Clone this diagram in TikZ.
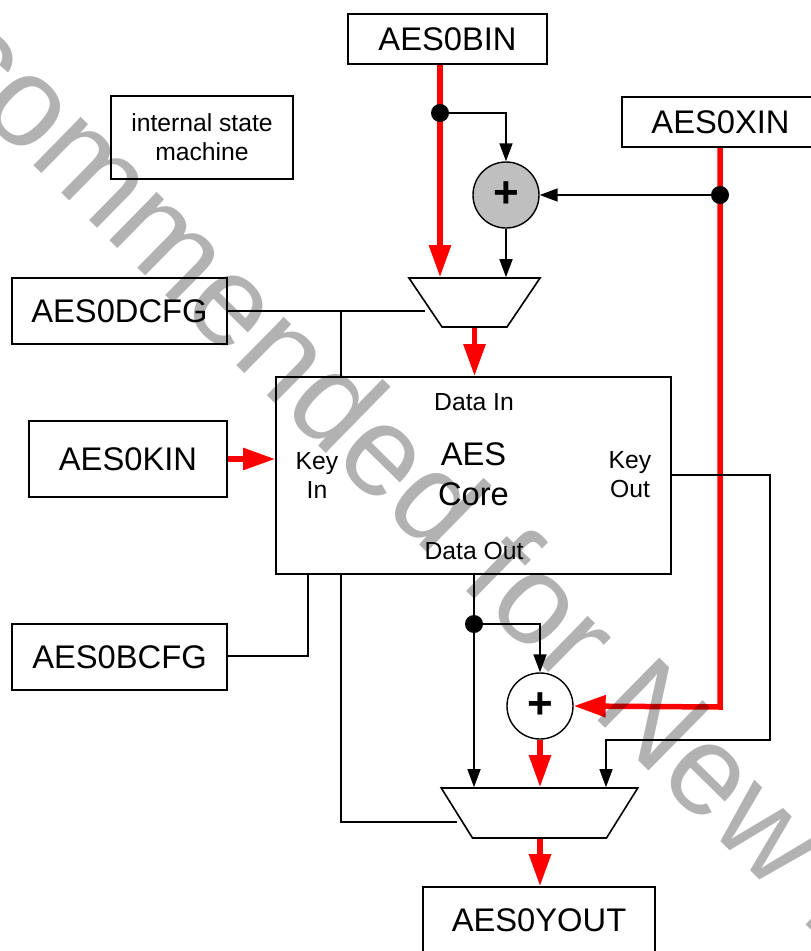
\documentclass[tikz,border=0pt]{standalone}
\usepackage{fontspec}
\setmainfont{Liberation Sans}
\usetikzlibrary{arrows.meta,positioning,shapes.geometric,backgrounds}
\newcommand{\bigtxt}{\fontsize{32.7}{40}\selectfont}
\newcommand{\smalltxt}{\fontsize{24.7}{29}\selectfont}
\tikzset{
  regbox/.style={draw,line width=1.6pt,inner sep=0pt,align=center,font=\bigtxt},
  notebox/.style={draw,line width=1.6pt,inner sep=0pt,align=center,font=\smalltxt},
  corelbl/.style={inner sep=0pt,align=center,font=\smalltxt},
  mux/.style={draw,line width=1.6pt,trapezium,shape border rotate=180,trapezium left angle=#1,
              trapezium right angle=#1,inner sep=0pt},
  adder/.style={draw,circle,line width=1.4pt,minimum size=66pt,inner sep=0pt,font=\fontsize{44}{44}\selectfont\bfseries},
  pont/.style={circle,fill=black,minimum size=18pt,inner sep=0pt},
  wire/.style={line width=1.5pt},
  nyil/.style={wire,-{Triangle[length=18pt,width=13pt]}},
  rnyil/.style={red,line width=5.5pt,-{Triangle[length=32pt,width=21pt]}},
}
\begin{document}
\begin{tikzpicture}[x=1pt,y=-1pt]
  \useasboundingbox (0,0) rectangle (811,951);
  \clip (0,0) rectangle (811,951);
  \node[regbox,minimum width=199pt,minimum height=50pt] (bin) at (447.5,39) {AES0BIN};
  \node[regbox,minimum width=197pt,minimum height=50pt] (xin) at (720.5,122) {AES0XIN};
  \node[notebox,minimum width=182pt,minimum height=83pt] (fsm) at (202,137.5) {internal state\\machine};
  \node[regbox,minimum width=215pt,minimum height=66pt] (dcfg) at (119.5,311) {AES0DCFG};
  \node[regbox,minimum width=198pt,minimum height=76pt] (kin) at (128,459) {AES0KIN};
  \node[regbox,minimum width=215pt,minimum height=66pt] (bcfg) at (119.5,657) {AES0BCFG};
  \node[regbox,minimum width=232pt,minimum height=66pt] (yout) at (539,920) {AES0YOUT};

  \node[draw,line width=1.6pt,minimum width=395pt,minimum height=197pt] (core) at (473.5,475.5) {};
  \node[corelbl] (datain) at (474,402) {Data In};
  \node[corelbl] (dataout) at (474,551) {Data Out};
  \node[corelbl] (keyin) at (317,475) {Key\\In};
  \node[corelbl] (keyout) at (630,475) {Key\\Out};
  \node[corelbl,font=\bigtxt] (aescore) at (473.5,474) {AES\\Core};

  \node[mux=56] (muxin) at (474.5,302.5) {\phantom{\rule{65pt}{49pt}}};
  \node[mux=58] (muxout) at (539.5,813) {\phantom{\rule{134pt}{50pt}}};
  \node[adder,fill=black!25] (addin) at (506,195) {+};
  \node[adder] (addout) at (540,706) {+};
  \node[pont] (d1) at (440,113) {};
  \node[pont] (d2) at (720,195) {};
  \node[pont] (d3) at (474,624) {};
  \coordinate (c1) at (720,707);
  \coordinate (c2) at (770,740);
  \coordinate (c3) at (606,740);
  \coordinate (c4) at (341,822);
  \coordinate (c5) at (425,311);
  \coordinate (c6) at (457,822);
  \coordinate (c7) at (308,656);
  \coordinate (c8) at (341,311);

  \begin{scope}[on background layer]
    \draw[rnyil] (d1 |- bin.south) -- (d1 |- muxin.north);
    \draw[rnyil] (d2 |- xin.south) -- (c1) -- (addout.east);
    \draw[rnyil] (muxin.south) -- (muxin.south |- core.north);
    \draw[rnyil] (kin.east) -- (kin.east -| core.west);
    \draw[rnyil] (addout.south) -- (addout.south |- muxout.north);
    \draw[rnyil] (addout.south |- muxout.south) -- (addout.south |- yout.north);

    \draw[nyil] (d1) -| (addin.north);
    \draw[nyil] (d2) -- (addin.east);
    \draw[nyil] (addin.south) -- (addin.south |- muxin.north);
    \draw[nyil] (d3) -| (addout.north);
    \draw[nyil] (d3 |- core.south) -- (d3 |- muxout.north);
    \draw[nyil] (core.east |- 0,475) -| (c2) -- (c3) -- (c3 |- muxout.north);
    \draw[wire] (dcfg.east) -- (c5);
    \draw[wire] (c8) -- (c8 |- core.north);
    \draw[wire] (bcfg.east |- c7) -| (c7 |- core.south);
    \draw[wire] (c4 |- core.south) -- (c4) -- (c6);
  \end{scope}

  \begin{scope}[blend mode=multiply]
    \node[anchor=base west,rotate=-44.5,text=black!30,inner sep=0pt,font=\fontsize{128}{128}\selectfont] (wmark) at (-353,-214) {Not Recommended for New Designs};
  \end{scope}
\end{tikzpicture}
\end{document}
